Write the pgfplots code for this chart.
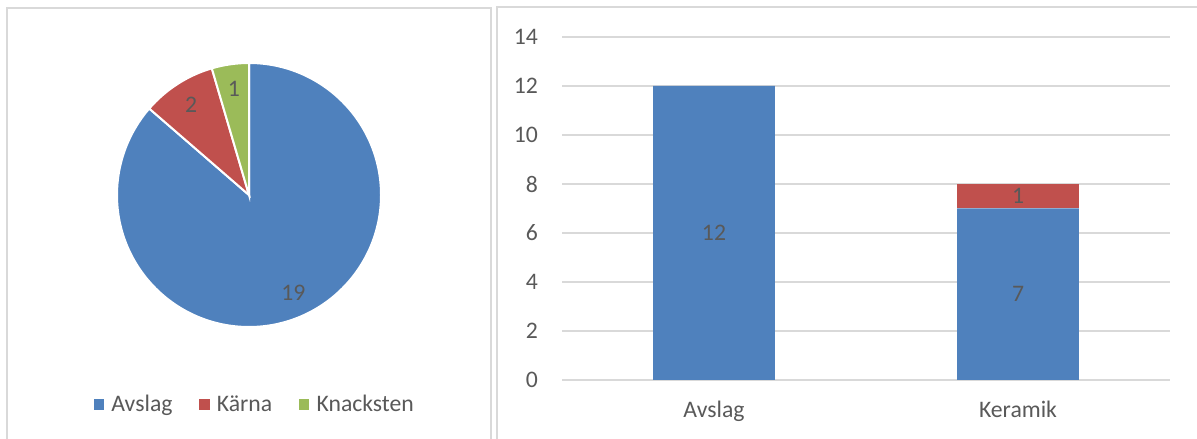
\documentclass[border=0pt]{standalone}
\usepackage{pgfplots}
\pgfplotsset{compat=1.18}
\usepackage{fontspec}
\setmainfont{Carlito}
\definecolor{cblue}{HTML}{4F81BD}
\definecolor{cred}{HTML}{C0504D}
\definecolor{cgreen}{HTML}{9BBB59}
\definecolor{txt}{HTML}{595959}
\definecolor{grd}{HTML}{D9D9D9}
\newcommand{\fs}{\fontsize{23.7}{28}\selectfont}
% pie values
\def\vA{19}\def\vB{2}\def\vC{1}
\pgfmathsetmacro\tot{\vA+\vB+\vC}
\pgfmathsetmacro\eA{90-360*\vA/\tot}
\pgfmathsetmacro\eB{\eA-360*\vB/\tot}
\pgfmathsetmacro\eC{\eB-360*\vC/\tot}
\pgfmathsetmacro\mA{(90+\eA)/2}
\pgfmathsetmacro\mB{(\eA+\eB)/2}
\pgfmathsetmacro\mC{(\eB+\eC)/2}
\begin{document}
\begin{tikzpicture}
\useasboundingbox (0,0) rectangle (1197pt,439pt);
\draw[grd, line width=1.5pt] (7pt,-2pt) -- (7pt,431pt) -- (491pt,431pt) -- (491pt,-2pt);
\draw[grd, line width=1.5pt] (497pt,-2pt) -- (497pt,432pt) -- (1200pt,432pt);

\begin{axis}[
  at={(249pt,244pt)}, anchor=center,
  scale only axis, width=264pt, height=264pt,
  xmin=-1, xmax=1, ymin=-1, ymax=1,
  hide axis, clip=false,
  legend image code/.code={\fill[#1] (0pt,-4.75pt) rectangle (9.5pt,4.75pt);},
  legend style={at={(0.5178,-0.2917)}, anchor=center, draw=none, fill=none,
    legend columns=3, font=\fs, text=txt, nodes={inner sep=0pt},
    /tikz/every odd column/.append style={column sep=8pt},
    /tikz/every even column/.append style={column sep=26.5pt}},
]
\addlegendimage{cblue}\addlegendentry{Avslag}
\addlegendimage{cred}\addlegendentry{Kärna}
\addlegendimage{cgreen}\addlegendentry{Knacksten}
\filldraw[fill=cblue, draw=white, line width=2pt] (axis cs:0,0) -- ++(90:132pt) arc[start angle=90, end angle=\eA, radius=132pt] -- cycle;
\filldraw[fill=cred, draw=white, line width=2pt] (axis cs:0,0) -- ++(\eA:132pt) arc[start angle=\eA, end angle=\eB, radius=132pt] -- cycle;
\filldraw[fill=cgreen, draw=white, line width=2pt] (axis cs:0,0) -- ++(\eB:132pt) arc[start angle=\eB, end angle=\eC, radius=132pt] -- cycle;
\path (axis cs:0,0) ++(\mA:107pt) node[font=\fs, text=txt] {\vA};
\path (axis cs:0,0) ++(\mB:107pt) node[font=\fs, text=txt] {\vB};
\path (axis cs:0,0) ++(\mC:107pt) node[font=\fs, text=txt] {\vC};
\end{axis}

\begin{axis}[
  at={(562pt,59pt)}, anchor=south west,
  scale only axis, width=608pt, height=343pt,
  ybar stacked, bar width=0.4,
  xmin=-0.5, xmax=1.5, ymin=0, ymax=14,
  xtick={0,1}, xticklabels={Avslag,Keramik},
  ytick={0,2,...,14},
  axis line style={draw=none},
  ymajorgrids, grid style={grd, line width=1.5pt},
  major tick length=0pt, tick style={draw=none},
  ticklabel style={font=\fs, text=txt},
  yticklabel style={anchor=east, inner sep=0pt, xshift=-24pt},
  xticklabel style={anchor=base, inner sep=0pt, yshift=-38pt},
  /pgf/number format/assume math mode=true,
]
\addplot[fill=cblue, draw=none] coordinates {(0,12) (1,7)};
\addplot[fill=cred, draw=none] coordinates {(0,0) (1,1)};
\coordinate (lA) at (axis cs:0,6);
\coordinate (lB) at (axis cs:1,3.5);
\coordinate (lC) at (axis cs:1,7.5);
\end{axis}
\node[font=\fs, text=txt] at (lA) {12};
\node[font=\fs, text=txt] at (lB) {7};
\node[font=\fs, text=txt] at (lC) {1};
\end{tikzpicture}
\end{document}
